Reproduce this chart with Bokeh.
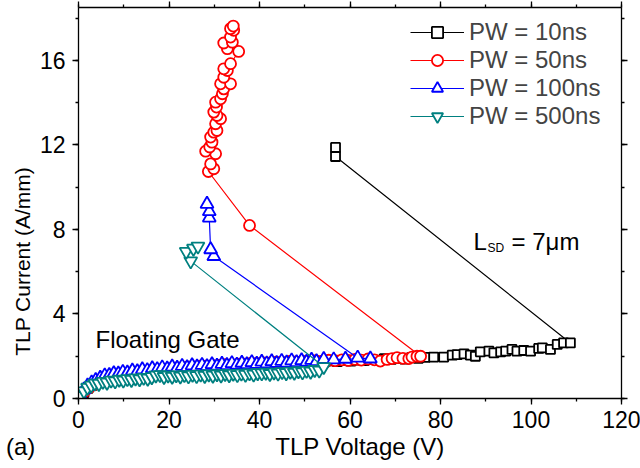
from bokeh.plotting import figure
from bokeh.models import (ColumnDataSource, Range1d, SingleIntervalTicker, LinearAxis,
                          Legend, LegendItem, Label, Title)
from bokeh.embed import file_html
from bokeh.resources import INLINE

FONT = "Liberation Sans"
NBSP = "\u00a0"

# ---------------- data ----------------
pw10_v = [0.3, 1.2, 2.1, 3.0, 4.2, 5.3, 6.5, 7.8, 9.0, 10.3, 11.6, 12.9, 14.2, 15.5, 16.9, 18.2,
          19.6, 21.0, 22.4, 23.8, 25.2, 26.6, 28.0, 29.5, 30.9, 32.3, 33.8, 35.2, 36.7, 38.1, 39.6,
          41.0, 42.5, 44.0, 45.4, 46.9, 48.4, 49.8, 51.3, 52.8, 54.3, 55.7, 57.2, 58.7, 60.2, 61.7,
          63.1, 64.6, 66.1, 67.6, 69.1, 70.6, 72.1, 73.6, 75.1, 76.6, 78.5, 80.7, 82.6, 83.7, 85.2,
          86.6, 87.7, 88.8, 90.7, 91.8, 93.3, 94.4, 95.8, 96.9, 98.4, 99.9, 101.7, 102.5, 104.3,
          105.8, 107.2, 108.7, 56.8, 56.8]
pw10_i = [0.05, 0.28, 0.48, 0.62, 0.74, 0.86, 0.92, 1.01, 1.04, 1.12, 1.14, 1.22, 1.24, 1.30, 1.31, 1.37,
          1.36, 1.42, 1.41, 1.47, 1.45, 1.51, 1.49, 1.54, 1.52, 1.57, 1.55, 1.60, 1.58, 1.63, 1.61,
          1.66, 1.63, 1.69, 1.66, 1.71, 1.68, 1.74, 1.70, 1.76, 1.72, 1.78, 1.75, 1.80, 1.77, 1.82,
          1.79, 1.85, 1.82, 1.88, 1.85, 1.90, 1.87, 1.93, 1.90, 1.95, 1.96, 1.96, 2.05, 2.08, 2.11,
          2.05, 2.00, 2.21, 2.24, 2.16, 2.21, 2.24, 2.32, 2.24, 2.27, 2.24, 2.37, 2.40, 2.32,
          2.56, 2.63, 2.63, 11.45, 11.88]

pw50_v = [0.3, 1.3, 2.4, 3.5, 4.7, 5.9, 7.1, 8.4, 9.6, 10.9, 12.2, 13.5, 14.8, 16.1, 17.4, 18.7,
          20.0, 21.4, 22.7, 24.1, 25.4, 26.8, 28.2, 29.6, 31.0, 32.4, 33.8, 35.2, 36.6, 38.0, 39.4,
          40.9, 42.3, 43.7, 45.2, 46.6, 48.0, 49.5, 50.9, 52.4, 53.8, 55.3, 56.7, 58.2, 59.6, 61.1,
          62.5, 64.0, 65.4, 66.7, 68.2, 69.3, 70.4, 71.7, 73.0, 73.7, 74.8, 75.6, 37.8,
          28.7, 29.9, 29.2, 30.3, 28.1, 29.0, 29.5, 29.2, 29.9, 30.6, 30.3, 31.4, 30.6, 29.9, 30.5,
          30.3, 31.4, 31.8, 32.1, 31.4, 33.6, 32.1, 32.9, 32.1, 33.6, 35.4, 32.9, 32.1, 34.0, 33.6,
          34.3, 33.6, 34.2]
pw50_i = [0.08, 0.32, 0.52, 0.66, 0.78, 0.88, 0.95, 1.03, 1.08, 1.14, 1.18, 1.24, 1.27, 1.32, 1.34, 1.39,
          1.40, 1.44, 1.45, 1.49, 1.50, 1.53, 1.53, 1.57, 1.57, 1.60, 1.60, 1.63, 1.63, 1.66, 1.66,
          1.69, 1.68, 1.72, 1.71, 1.75, 1.73, 1.77, 1.75, 1.79, 1.77, 1.81, 1.79, 1.83, 1.80, 1.85,
          1.82, 1.87, 1.83, 1.77, 1.85, 1.89, 1.93, 1.90, 1.89, 1.96, 2.00, 2.00, 8.19,
          10.74, 10.87, 11.10, 11.58, 11.70, 11.90, 12.13, 12.37, 12.60, 12.68, 13.00, 13.24, 13.39, 13.55, 13.79,
          14.02, 14.18, 14.42, 14.65, 14.89, 14.89, 15.20, 15.52, 15.60, 15.84, 16.42, 16.55, 16.82, 16.86, 17.10,
          17.42, 17.50, 17.62]

pw100_v = [0.4, 1.2, 2.0, 2.9, 3.8, 4.8, 5.8, 6.8, 7.8, 8.8, 9.8, 10.8, 11.9, 13.0, 14.1, 15.2,
           16.3, 17.4, 18.5, 19.6, 20.7, 21.8, 22.9, 24.0, 25.1, 26.2, 27.3, 28.4, 29.5, 30.6, 31.7,
           32.8, 33.9, 35.0, 36.1, 37.2, 38.3, 39.4, 40.5, 41.6, 42.7, 43.8, 44.9, 46.0, 47.1, 48.2,
           49.3, 50.4, 51.5, 52.6, 54.2, 56.4, 59.0, 64.5, 61.7,
           29.9, 29.2, 28.9, 28.9, 28.4]
pw100_i = [0.15, 0.42, 0.60, 0.75, 0.86, 0.97, 1.08, 1.10, 1.18, 1.17, 1.25, 1.22, 1.31, 1.28, 1.37, 1.33,
           1.42, 1.38, 1.46, 1.41, 1.50, 1.44, 1.53, 1.47, 1.56, 1.50, 1.58, 1.52, 1.61, 1.54, 1.63,
           1.57, 1.66, 1.59, 1.68, 1.61, 1.71, 1.63, 1.73, 1.65, 1.75, 1.67, 1.77, 1.69, 1.79, 1.71,
           1.80, 1.73, 1.82, 1.75, 1.86, 1.84, 1.87, 1.88, 1.92,
           6.73, 7.05, 8.55, 8.85, 9.20]

pw500_v = [0.5, 1.2, 2.0, 2.8, 3.6, 4.5, 5.4, 6.3, 7.2, 8.1, 9.0, 9.9, 10.8, 11.7, 12.6, 13.5,
           14.4, 15.3, 16.2, 17.1, 18.0, 18.9, 19.8, 20.7, 21.6, 22.5, 23.4, 24.3, 25.2, 26.1, 27.0,
           27.9, 28.8, 29.7, 30.6, 31.5, 32.4, 33.3, 34.2, 35.1, 36.0, 36.9, 37.8, 38.7, 39.6, 40.5,
           41.4, 42.3, 43.2, 44.1, 45.0, 45.9, 46.8, 47.7, 48.6, 49.5, 50.4, 51.3, 52.2, 53.2, 54.2,
           24.8, 23.8, 25.4, 26.4]
pw500_i = [0.12, 0.35, 0.52, 0.62, 0.72, 0.70, 0.80, 0.76, 0.86, 0.82, 0.90, 0.86, 0.93, 0.89, 0.96, 0.92,
           0.99, 0.95, 1.02, 1.10, 1.12, 1.03, 1.10, 1.04, 1.11, 1.05, 1.12, 1.06, 1.13, 1.07, 1.14,
           1.08, 1.15, 1.09, 1.16, 1.10, 1.17, 1.11, 1.18, 1.12, 1.19, 1.13, 1.20, 1.14, 1.21, 1.20,
           1.23, 1.17, 1.24, 1.19, 1.26, 1.21, 1.28, 1.23, 1.30, 1.25, 1.32, 1.28, 1.36, 1.33, 1.50,
           6.50, 6.95, 7.10, 7.20]

labels = ["PW = 10ns", "PW = 50ns", "PW = 100ns", "PW = 500ns"]
colors = ["#000000", "#FF0000", "#0000FF", "#008080"]
markers = ["square", "circle", "triangle", "inverted_triangle"]
sizes = [9, 11, 13, 13]

# ---------------- figure ----------------
p = figure(width=640, height=468, x_range=Range1d(0, 120), y_range=Range1d(0, 18.5),
           output_backend="svg", toolbar_location=None,
           min_border_left=78, min_border_right=19, min_border_top=7, min_border_bottom=70)
p.grid.visible = False
p.outline_line_color = None

def style_axis(ax, labels_on=True):
    ax.axis_line_width = 1.3
    ax.axis_line_color = "black"
    ax.major_tick_line_width = 1.3
    ax.minor_tick_line_width = 1.3
    ax.major_tick_in = 0
    ax.major_tick_out = 6
    ax.minor_tick_in = 0
    ax.minor_tick_out = 3
    ax.major_label_text_font = FONT
    ax.major_label_text_color = "black"
    if labels_on:
        ax.major_label_text_font_size = "23px"
    else:
        ax.major_label_text_font_size = "1px"
        ax.major_label_text_color = None
        ax.major_label_standoff = 0

p.xaxis.ticker = SingleIntervalTicker(interval=20, num_minor_ticks=2)
p.yaxis.ticker = SingleIntervalTicker(interval=4, num_minor_ticks=2)
xa = p.xaxis[0]
ya = p.yaxis[0]
style_axis(xa)
style_axis(ya)
xa.major_label_standoff = 6
ya.major_label_standoff = 7

ya.axis_label = "TLP Current (A/mm)" + NBSP * 20
ya.axis_label_text_font = FONT
ya.axis_label_text_font_size = "21px"
ya.axis_label_text_font_style = "normal"
ya.axis_label_text_color = "black"
ya.axis_label_standoff = 3

top = LinearAxis(ticker=SingleIntervalTicker(interval=20, num_minor_ticks=2))
right = LinearAxis(ticker=SingleIntervalTicker(interval=4, num_minor_ticks=2))
style_axis(top, False)
style_axis(right, False)
p.add_layout(top, "above")
p.add_layout(right, "right")

# x title line, with the panel tag "(a)" at its left
xtitle = Title(text="(a)" + NBSP * 36 + "TLP Voltage (V)", align="left", offset=-72.6,
               standoff=0, text_font=FONT, text_font_size="24px", text_font_style="normal",
               text_color="black")
p.add_layout(xtitle, "below")

series = [(pw10_v, pw10_i), (pw50_v, pw50_i), (pw100_v, pw100_i), (pw500_v, pw500_i)]
items = []
for (vx, iy), lab, col, mk, sz in zip(series, labels, colors, markers, sizes):
    src = ColumnDataSource(dict(v=vx, i=iy))
    lr = p.line("v", "i", source=src, line_color=col, line_width=1.2)
    sr = p.scatter("v", "i", source=src, marker=mk, size=sz, line_color=col, line_width=1.8,
                   fill_color="white", fill_alpha=1.0)
    items.append(LegendItem(label=lab, renderers=[lr, sr]))

legend = Legend(items=items, location=(332, 268), padding=0, margin=0, spacing=0,
                glyph_width=54, glyph_height=28, label_height=28, label_standoff=5,
                label_text_font=FONT, label_text_font_size="24px", label_text_baseline="middle",
                border_line_color=None, background_fill_alpha=0)
p.add_layout(legend)

# ---------------- in-plot texts ----------------
def lab(text, x, y, size):
    p.add_layout(Label(x=x, y=y, text=text, text_font=FONT, text_font_size=size,
                       text_align="left", text_baseline="alphabetic", text_color="black"))

lab("Floating Gate", 3.76, 2.78, "24px")
lab("L", 87.3, 7.44, "24px")
lab("SD", 90.4, 7.13, "12px")
lab("= 7\u03bcm", 95.7, 7.44, "24px")

open("out.html", "w").write(file_html(p, INLINE))
